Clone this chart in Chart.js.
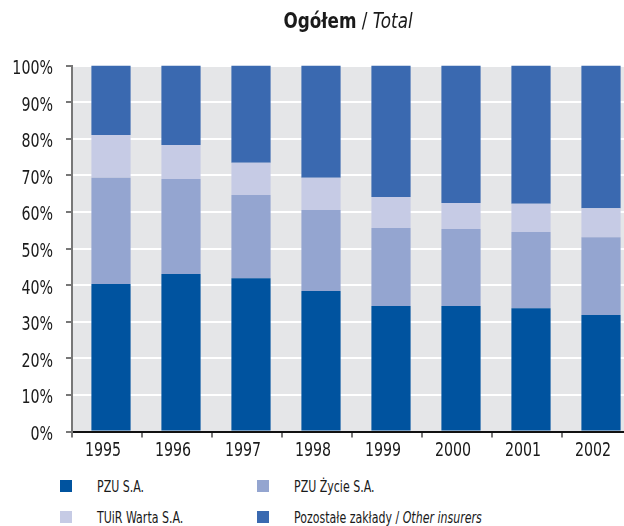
<!DOCTYPE html>
<html>
<head>
<meta charset="utf-8">
<script src="https://cdn.jsdelivr.net/npm/chart.js@4"></script>
<style>
  html, body { margin: 0; padding: 0; background: #fff; overflow: hidden; }
  #wrap { position: relative; width: 624px; height: 526px; overflow: hidden; }
  #chart { position: absolute; left: 0; top: 0; }
  #title {
    position: absolute; left: 0; top: 11px; width: 696px; text-align: center;
    font: 21px/21px "DejaVu Sans Condensed", sans-serif; color: #1a1a1a;
    transform: scaleX(0.89); transform-origin: 348px 0;
  }
  #title b { font-weight: bold; }
  #title i { font-style: italic; }
  #legend {
    position: absolute; left: 60px; top: 470px;
    display: grid; grid-template-columns: 197px 240px; grid-auto-rows: 31px;
    font: 15.5px "DejaVu Sans Condensed", sans-serif; color: #1a1a1a;
  }
  #legend .item { display: flex; align-items: center; white-space: nowrap; }
  #legend .box { width: 12px; height: 12px; margin-right: 25px; flex: none; }
  #legend .txt { display: inline-block; transform: scaleX(0.79); transform-origin: 0 50%; padding-top: 2px; }
</style>
</head>
<body>
<div id="wrap">
  <canvas id="chart" width="640" height="465"></canvas>
  <div id="title"><b>Ogółem</b> / <i>Total</i></div>
  <div id="legend"></div>
</div>
<script>
const years = ['1995', '1996', '1997', '1998', '1999', '2000', '2001', '2002'];
const pzu      = [40.3, 43.0, 41.9, 38.4, 34.3, 34.3, 33.7, 31.8];   // PZU S.A.
const pzuZycie = [29.0, 26.0, 22.7, 22.1, 21.3, 21.0, 20.8, 21.3];   // PZU Życie S.A.
const warta    = [11.7,  9.3,  8.8,  8.8,  8.5,  7.1,  7.7,  7.9];   // TUiR Warta S.A.
const others   = [19.0, 21.7, 26.6, 30.7, 35.9, 37.6, 37.8, 39.0];   // Pozostałe zakłady
const yTicks   = [0, 10, 20, 30, 40, 50, 60, 70, 80, 90, 100];

const FONT = '20px "DejaVu Sans Condensed", sans-serif';
const SQUEEZE = 0.79;   // the original uses a narrower face than what we have

// grey plot background behind the bars
const plotBg = {
  id: 'plotBg',
  beforeDraw(chart) {
    const a = chart.chartArea, c = chart.ctx;
    c.save();
    c.fillStyle = '#e5e6e8';
    c.fillRect(a.left, a.top, a.right - a.left, a.bottom - a.top);
    c.restore();
  }
};

// bars sit a little right of the category centre in the original
const barNudge = {
  id: 'barNudge',
  beforeDatasetsDraw(chart) { chart.ctx.save(); chart.ctx.translate(4, 0); },
  afterDatasetsDraw(chart) { chart.ctx.restore(); }
};

// tick labels drawn narrow, positions taken from the scales
const narrowTicks = {
  id: 'narrowTicks',
  afterDraw(chart) {
    const c = chart.ctx, xs = chart.scales.x, ys = chart.scales.y;
    c.save();
    c.fillStyle = '#1a1a1a';
    c.font = FONT;
    c.textBaseline = 'alphabetic';
    xs.ticks.forEach((t, i) => {
      c.save();
      c.translate(xs.getPixelForTick(i) - 4, xs.bottom - 9);
      c.scale(SQUEEZE, 1);
      c.textAlign = 'center';
      c.fillText(xs.getLabelForValue(t.value), 0, 0);
      c.restore();
    });
    ys.ticks.forEach(t => {
      c.save();
      c.translate(ys.right - 19, ys.getPixelForValue(t.value) + 8.5);
      c.scale(SQUEEZE, 1);
      c.textAlign = 'right';
      c.fillText(t.value + '%', 0, 0);
      c.restore();
    });
    c.restore();
  }
};

const ctx = document.getElementById('chart').getContext('2d');
const chart = new Chart(ctx, {
  type: 'bar',
  data: {
    labels: years,
    datasets: [
      { label: 'PZU S.A.', data: pzu, backgroundColor: '#00539f' },
      { label: 'PZU Życie S.A.', data: pzuZycie, backgroundColor: '#94a5d0' },
      { label: 'TUiR Warta S.A.', data: warta, backgroundColor: '#c6cbe5' },
      { label: 'Pozostałe zakłady / Other insurers', data: others, backgroundColor: '#3a69b0' }
    ]
  },
  options: {
    responsive: false,
    animation: false,
    devicePixelRatio: 1,
    layout: { padding: { top: 65.5, right: 8, left: 0, bottom: 0 } },
    datasets: { bar: { categoryPercentage: 1, barPercentage: 0.56, borderWidth: 0 } },
    plugins: { legend: { display: false }, title: { display: false }, tooltip: { enabled: false } },
    scales: {
      x: {
        stacked: true,
        afterFit: s => { s.height = 33.5; },
        grid: { drawOnChartArea: false, offset: true, tickLength: 6, tickColor: '#777', lineWidth: 2 },
        border: { color: '#111', width: 2 },
        ticks: { display: false }
      },
      y: {
        stacked: true,
        min: 0,
        max: 100,
        afterFit: s => { s.width = 72; },
        afterBuildTicks: s => { s.ticks = yTicks.map(v => ({ value: v })); },
        grid: {
          color: c => (c.tick && c.tick.value === 0) ? 'rgba(0,0,0,0)' : '#ffffff',
          lineWidth: 2, tickLength: 6, tickColor: '#777'
        },
        border: { color: '#777', width: 2 },
        ticks: { display: false }
      }
    }
  },
  plugins: [plotBg, barNudge, narrowTicks]
});

// html legend built from the datasets (second half of a label in italics)
const legend = document.getElementById('legend');
chart.data.datasets.forEach(ds => {
  const item = document.createElement('div');
  item.className = 'item';
  const box = document.createElement('span');
  box.className = 'box';
  box.style.background = ds.backgroundColor;
  const txt = document.createElement('span');
  txt.className = 'txt';
  const parts = ds.label.split(' / ');
  txt.textContent = parts[0];
  if (parts[1]) {
    txt.appendChild(document.createTextNode(' / '));
    const it = document.createElement('i');
    it.textContent = parts[1];
    txt.appendChild(it);
  }
  item.appendChild(box);
  item.appendChild(txt);
  legend.appendChild(item);
});
</script>
</body>
</html>
